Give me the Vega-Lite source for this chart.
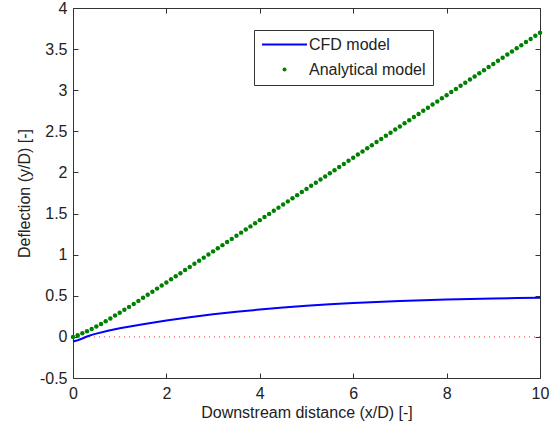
{
  "$schema": "https://vega.github.io/schema/vega-lite/v6.json",
  "width": 467,
  "height": 370,
  "autosize": {"type": "none"},
  "padding": {"left": 73, "top": 8, "right": 19, "bottom": 49},
  "background": "white",
  "config": {
    "view": {"stroke": "#333333", "strokeWidth": 1},
    "font": "Liberation Sans",
    "axis": {
      "domain": false,
      "grid": false,
      "tickSize": -5,
      "tickColor": "#333333",
      "tickWidth": 1,
      "labelFlush": false,
      "labelFont": "Liberation Sans",
      "labelFontSize": 16,
      "labelColor": "#222222",
      "titleFont": "Liberation Sans",
      "titleFontSize": 16,
      "titleFontWeight": "normal",
      "titleColor": "#222222"
    },
    "legend": {
      "labelFont": "Liberation Sans",
      "labelFontSize": 16,
      "labelColor": "#222222"
    }
  },
  "datasets": {
    "cfd": [
      {"x": 0, "y": -0.055, "series": "CFD model"},
      {"x": 0.1, "y": -0.04, "series": "CFD model"},
      {"x": 0.2, "y": -0.02, "series": "CFD model"},
      {"x": 0.3, "y": 0.005, "series": "CFD model"},
      {"x": 0.4, "y": 0.025, "series": "CFD model"},
      {"x": 0.5, "y": 0.04, "series": "CFD model"},
      {"x": 0.75, "y": 0.075, "series": "CFD model"},
      {"x": 1.0, "y": 0.105, "series": "CFD model"},
      {"x": 1.25, "y": 0.13, "series": "CFD model"},
      {"x": 1.5, "y": 0.155, "series": "CFD model"},
      {"x": 2.0, "y": 0.2, "series": "CFD model"},
      {"x": 2.5, "y": 0.24, "series": "CFD model"},
      {"x": 3.0, "y": 0.275, "series": "CFD model"},
      {"x": 3.5, "y": 0.305, "series": "CFD model"},
      {"x": 4.0, "y": 0.333, "series": "CFD model"},
      {"x": 4.5, "y": 0.357, "series": "CFD model"},
      {"x": 5.0, "y": 0.378, "series": "CFD model"},
      {"x": 5.5, "y": 0.396, "series": "CFD model"},
      {"x": 6.0, "y": 0.411, "series": "CFD model"},
      {"x": 6.5, "y": 0.424, "series": "CFD model"},
      {"x": 7.0, "y": 0.436, "series": "CFD model"},
      {"x": 7.5, "y": 0.446, "series": "CFD model"},
      {"x": 8.0, "y": 0.454, "series": "CFD model"},
      {"x": 8.5, "y": 0.461, "series": "CFD model"},
      {"x": 9.0, "y": 0.467, "series": "CFD model"},
      {"x": 9.5, "y": 0.472, "series": "CFD model"},
      {"x": 10.0, "y": 0.476, "series": "CFD model"}
    ],
    "analytical": [
      {"x": 0.0, "y": 0.0, "series": "Analytical model"},
      {"x": 0.1, "y": 0.02, "series": "Analytical model"},
      {"x": 0.2, "y": 0.043, "series": "Analytical model"},
      {"x": 0.3, "y": 0.069, "series": "Analytical model"},
      {"x": 0.4, "y": 0.097, "series": "Analytical model"},
      {"x": 0.5, "y": 0.127, "series": "Analytical model"},
      {"x": 0.6, "y": 0.158, "series": "Analytical model"},
      {"x": 0.7, "y": 0.191, "series": "Analytical model"},
      {"x": 0.8, "y": 0.224, "series": "Analytical model"},
      {"x": 0.9, "y": 0.259, "series": "Analytical model"},
      {"x": 1.0, "y": 0.294, "series": "Analytical model"},
      {"x": 1.1, "y": 0.329, "series": "Analytical model"},
      {"x": 1.2, "y": 0.365, "series": "Analytical model"},
      {"x": 1.3, "y": 0.401, "series": "Analytical model"},
      {"x": 1.4, "y": 0.438, "series": "Analytical model"},
      {"x": 1.5, "y": 0.475, "series": "Analytical model"},
      {"x": 1.6, "y": 0.512, "series": "Analytical model"},
      {"x": 1.7, "y": 0.549, "series": "Analytical model"},
      {"x": 1.8, "y": 0.587, "series": "Analytical model"},
      {"x": 1.9, "y": 0.624, "series": "Analytical model"},
      {"x": 2.0, "y": 0.662, "series": "Analytical model"},
      {"x": 2.1, "y": 0.7, "series": "Analytical model"},
      {"x": 2.2, "y": 0.737, "series": "Analytical model"},
      {"x": 2.3, "y": 0.775, "series": "Analytical model"},
      {"x": 2.4, "y": 0.813, "series": "Analytical model"},
      {"x": 2.5, "y": 0.851, "series": "Analytical model"},
      {"x": 2.6, "y": 0.889, "series": "Analytical model"},
      {"x": 2.7, "y": 0.926, "series": "Analytical model"},
      {"x": 2.8, "y": 0.964, "series": "Analytical model"},
      {"x": 2.9, "y": 1.002, "series": "Analytical model"},
      {"x": 3.0, "y": 1.04, "series": "Analytical model"},
      {"x": 3.1, "y": 1.078, "series": "Analytical model"},
      {"x": 3.2, "y": 1.116, "series": "Analytical model"},
      {"x": 3.3, "y": 1.154, "series": "Analytical model"},
      {"x": 3.4, "y": 1.192, "series": "Analytical model"},
      {"x": 3.5, "y": 1.23, "series": "Analytical model"},
      {"x": 3.6, "y": 1.268, "series": "Analytical model"},
      {"x": 3.7, "y": 1.306, "series": "Analytical model"},
      {"x": 3.8, "y": 1.344, "series": "Analytical model"},
      {"x": 3.9, "y": 1.382, "series": "Analytical model"},
      {"x": 4.0, "y": 1.42, "series": "Analytical model"},
      {"x": 4.1, "y": 1.458, "series": "Analytical model"},
      {"x": 4.2, "y": 1.496, "series": "Analytical model"},
      {"x": 4.3, "y": 1.534, "series": "Analytical model"},
      {"x": 4.4, "y": 1.572, "series": "Analytical model"},
      {"x": 4.5, "y": 1.61, "series": "Analytical model"},
      {"x": 4.6, "y": 1.648, "series": "Analytical model"},
      {"x": 4.7, "y": 1.686, "series": "Analytical model"},
      {"x": 4.8, "y": 1.724, "series": "Analytical model"},
      {"x": 4.9, "y": 1.762, "series": "Analytical model"},
      {"x": 5.0, "y": 1.8, "series": "Analytical model"},
      {"x": 5.1, "y": 1.838, "series": "Analytical model"},
      {"x": 5.2, "y": 1.876, "series": "Analytical model"},
      {"x": 5.3, "y": 1.914, "series": "Analytical model"},
      {"x": 5.4, "y": 1.952, "series": "Analytical model"},
      {"x": 5.5, "y": 1.99, "series": "Analytical model"},
      {"x": 5.6, "y": 2.028, "series": "Analytical model"},
      {"x": 5.7, "y": 2.066, "series": "Analytical model"},
      {"x": 5.8, "y": 2.104, "series": "Analytical model"},
      {"x": 5.9, "y": 2.142, "series": "Analytical model"},
      {"x": 6.0, "y": 2.18, "series": "Analytical model"},
      {"x": 6.1, "y": 2.218, "series": "Analytical model"},
      {"x": 6.2, "y": 2.256, "series": "Analytical model"},
      {"x": 6.3, "y": 2.294, "series": "Analytical model"},
      {"x": 6.4, "y": 2.332, "series": "Analytical model"},
      {"x": 6.5, "y": 2.37, "series": "Analytical model"},
      {"x": 6.6, "y": 2.408, "series": "Analytical model"},
      {"x": 6.7, "y": 2.446, "series": "Analytical model"},
      {"x": 6.8, "y": 2.484, "series": "Analytical model"},
      {"x": 6.9, "y": 2.522, "series": "Analytical model"},
      {"x": 7.0, "y": 2.56, "series": "Analytical model"},
      {"x": 7.1, "y": 2.598, "series": "Analytical model"},
      {"x": 7.2, "y": 2.636, "series": "Analytical model"},
      {"x": 7.3, "y": 2.674, "series": "Analytical model"},
      {"x": 7.4, "y": 2.712, "series": "Analytical model"},
      {"x": 7.5, "y": 2.75, "series": "Analytical model"},
      {"x": 7.6, "y": 2.788, "series": "Analytical model"},
      {"x": 7.7, "y": 2.826, "series": "Analytical model"},
      {"x": 7.8, "y": 2.864, "series": "Analytical model"},
      {"x": 7.9, "y": 2.902, "series": "Analytical model"},
      {"x": 8.0, "y": 2.94, "series": "Analytical model"},
      {"x": 8.1, "y": 2.978, "series": "Analytical model"},
      {"x": 8.2, "y": 3.016, "series": "Analytical model"},
      {"x": 8.3, "y": 3.054, "series": "Analytical model"},
      {"x": 8.4, "y": 3.092, "series": "Analytical model"},
      {"x": 8.5, "y": 3.13, "series": "Analytical model"},
      {"x": 8.6, "y": 3.168, "series": "Analytical model"},
      {"x": 8.7, "y": 3.206, "series": "Analytical model"},
      {"x": 8.8, "y": 3.244, "series": "Analytical model"},
      {"x": 8.9, "y": 3.282, "series": "Analytical model"},
      {"x": 9.0, "y": 3.32, "series": "Analytical model"},
      {"x": 9.1, "y": 3.358, "series": "Analytical model"},
      {"x": 9.2, "y": 3.396, "series": "Analytical model"},
      {"x": 9.3, "y": 3.434, "series": "Analytical model"},
      {"x": 9.4, "y": 3.472, "series": "Analytical model"},
      {"x": 9.5, "y": 3.51, "series": "Analytical model"},
      {"x": 9.6, "y": 3.548, "series": "Analytical model"},
      {"x": 9.7, "y": 3.586, "series": "Analytical model"},
      {"x": 9.8, "y": 3.624, "series": "Analytical model"},
      {"x": 9.9, "y": 3.662, "series": "Analytical model"},
      {"x": 10.0, "y": 3.7, "series": "Analytical model"}
    ],
    "zero": [{"y": 0}]
  },
  "resolve": {"axis": {"x": "independent", "y": "independent"}},
  "layer": [
    {
      "data": {"name": "zero"},
      "mark": {"type": "rule", "color": "#ff3030", "strokeWidth": 1, "strokeDash": [1, 4]},
      "encoding": {
        "y": {"field": "y", "type": "quantitative", "axis": null,
              "scale": {"domain": [-0.5, 4], "nice": false, "zero": false}}
      }
    },
    {
      "data": {"name": "cfd"},
      "mark": {"type": "line", "strokeWidth": 2, "interpolate": "linear"},
      "encoding": {
        "x": {
          "field": "x", "type": "quantitative",
          "scale": {"domain": [0, 10], "nice": false, "zero": false},
          "axis": {"orient": "bottom", "values": [0, 2, 4, 6, 8, 10], "format": "d",
                   "labelPadding": 12, "title": "Downstream distance (x/D) [-]", "titlePadding": 3}
        },
        "y": {
          "field": "y", "type": "quantitative",
          "scale": {"domain": [-0.5, 4], "nice": false, "zero": false},
          "axis": {"orient": "left", "values": [-0.5, 0, 0.5, 1, 1.5, 2, 2.5, 3, 3.5, 4],
                   "labelExpr": "'' + datum.value", "labelPadding": 11,
                   "title": "Deflection (y/D) [-]", "titlePadding": 7}
        },
        "color": {
          "field": "series", "type": "nominal",
          "scale": {"domain": ["CFD model", "Analytical model"], "range": ["#0000ff", "#008000"]},
          "legend": {
            "title": null,
            "orient": "none",
            "legendX": 181,
            "legendY": 22,
            "padding": 7,
            "fillColor": "white",
            "strokeColor": "#333333",
            "symbolSize": 2025,
            "symbolStrokeWidth": 2,
            "clipHeight": 15,
            "rowPadding": 8,
            "labelOffset": 2,
            "encode": {
              "symbols": {
                "update": {
                  "x": {"value": 23.5},
                  "shape": {"signal": "datum.value === 'CFD model' ? 'stroke' : 'circle'"},
                  "size": {"signal": "datum.value === 'CFD model' ? 2025 : 16"},
                  "stroke": {"signal": "datum.value === 'CFD model' ? '#0000ff' : '#008000'"},
                  "fill": {"signal": "datum.value === 'CFD model' ? 'transparent' : '#008000'"},
                  "strokeWidth": {"signal": "datum.value === 'CFD model' ? 2 : 0"},
                  "opacity": {"value": 1}
                }
              },
              "labels": {
                "update": {
                  "x": {"value": 48}
                }
              }
            }
          }
        }
      }
    },
    {
      "data": {"name": "analytical"},
      "mark": {"type": "point", "shape": "circle", "filled": true, "size": 20, "opacity": 1},
      "encoding": {
        "x": {
          "field": "x", "type": "quantitative",
          "axis": {"orient": "top", "values": [0, 2, 4, 6, 8, 10], "labels": false, "title": null}
        },
        "y": {
          "field": "y", "type": "quantitative",
          "axis": {"orient": "right", "values": [-0.5, 0, 0.5, 1, 1.5, 2, 2.5, 3, 3.5, 4],
                   "labels": false, "title": null}
        },
        "color": {"field": "series", "type": "nominal"}
      }
    }
  ]
}
